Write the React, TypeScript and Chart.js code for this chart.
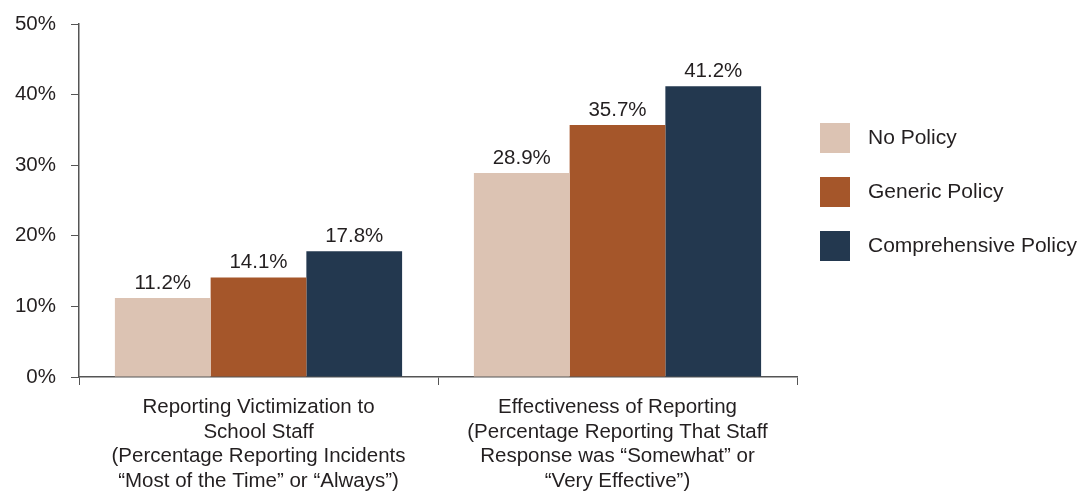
import React, { useEffect, useRef } from "react";
import { Chart, registerables } from "chart.js";

Chart.register(...registerables);

const categories: string[][] = [
  ["Reporting Victimization to", "School Staff", "(Percentage Reporting Incidents", "\u201CMost of the Time\u201D or \u201CAlways\u201D)"],
  ["Effectiveness of Reporting", "(Percentage Reporting That Staff", "Response was \u201CSomewhat\u201D or", "\u201CVery Effective\u201D)"],
];
const seriesNames = ["No Policy", "Generic Policy", "Comprehensive Policy"];
const noPolicy = [11.2, 28.9];
const genericPolicy = [14.1, 35.7];
const comprehensivePolicy = [17.8, 41.2];
const yTicks = [0, 10, 20, 30, 40, 50];
const colors = ["#dcc3b3", "#a5562a", "#23384f"];

const FONT = "'Liberation Sans', Arial, Helvetica, sans-serif";
const TEXT = "#231f20";
const AXIS = "#555555";
const FS = 20.5;

export default function App() {
  const ref = useRef<HTMLCanvasElement | null>(null);
  useEffect(() => {
    document.body.style.margin = "0";
    const canvas = ref.current!;
    const labelPlugin = {
      id: "valueLabels",
      afterDatasetsDraw(chart: any) {
        const ctx = chart.ctx;
        ctx.save();
        ctx.font = `${FS}px ${FONT}`;
        ctx.fillStyle = TEXT;
        ctx.textAlign = "center";
        ctx.textBaseline = "alphabetic";
        chart.data.datasets.forEach((ds: any, i: number) => {
          const meta = chart.getDatasetMeta(i);
          meta.data.forEach((bar: any, j: number) => {
            ctx.fillText(ds.data[j].toFixed(1) + "%", bar.x, bar.y - 9);
          });
        });
        ctx.restore();
      },
    };
    const legendPlugin = {
      id: "customLegend",
      afterDraw(chart: any) {
        const ctx = chart.ctx;
        ctx.save();
        const x0 = chart.chartArea.right + 23;
        const y0 = 123;
        const gap = 54;
        ctx.font = `21px ${FONT}`;
        ctx.textBaseline = "middle";
        ctx.textAlign = "left";
        chart.data.datasets.forEach((ds: any, i: number) => {
          const y = y0 + i * gap;
          ctx.fillStyle = ds.backgroundColor;
          ctx.fillRect(x0, y, 30, 30);
          ctx.fillStyle = TEXT;
          ctx.fillText(ds.label, x0 + 48, y + 15);
        });
        ctx.restore();
      },
    };
    const chart = new Chart(canvas, {
      type: "bar",
      data: {
        labels: categories,
        datasets: [
          { label: seriesNames[0], data: noPolicy, backgroundColor: colors[0] },
          { label: seriesNames[1], data: genericPolicy, backgroundColor: colors[1] },
          { label: seriesNames[2], data: comprehensivePolicy, backgroundColor: colors[2] },
        ],
      },
      options: {
        animation: false,
        responsive: false,
        maintainAspectRatio: false,
        layout: { padding: { top: 24, right: 282, left: 0, bottom: 0 } },
        plugins: { legend: { display: false }, tooltip: { enabled: false } },
        datasets: { bar: { categoryPercentage: 0.8, barPercentage: 1.0 } },
        scales: {
          x: {
            grid: { display: true, drawOnChartArea: false, tickLength: 8, color: AXIS, offset: true },
            border: { color: AXIS, width: 1.5 },
            ticks: { color: TEXT, font: { family: FONT, size: FS, lineHeight: 1.2 }, padding: 10, maxRotation: 0, autoSkip: false },
            afterFit: (s: any) => { s.height = 118; },
          },
          y: {
            min: 0,
            max: 50,
            afterBuildTicks: (s: any) => { s.ticks = yTicks.map((v) => ({ value: v })); },
            grid: { display: true, drawOnChartArea: false, tickLength: 8, color: AXIS },
            border: { color: AXIS, width: 1.5 },
            ticks: { color: TEXT, font: { family: FONT, size: FS, lineHeight: 0.8 }, padding: 15, callback: (v: any) => v + "%" },
            afterFit: (s: any) => { s.width = 79; },
          },
        },
      },
      plugins: [labelPlugin, legendPlugin],
    } as any);
    return () => chart.destroy();
  }, []);
  return (
    <div style={{ position: "absolute", left: 0, top: 0, width: 1079, height: 495, background: "#fff" }}>
      <canvas ref={ref} width={1079} height={495} style={{ width: 1079, height: 495 }} />
    </div>
  );
}
